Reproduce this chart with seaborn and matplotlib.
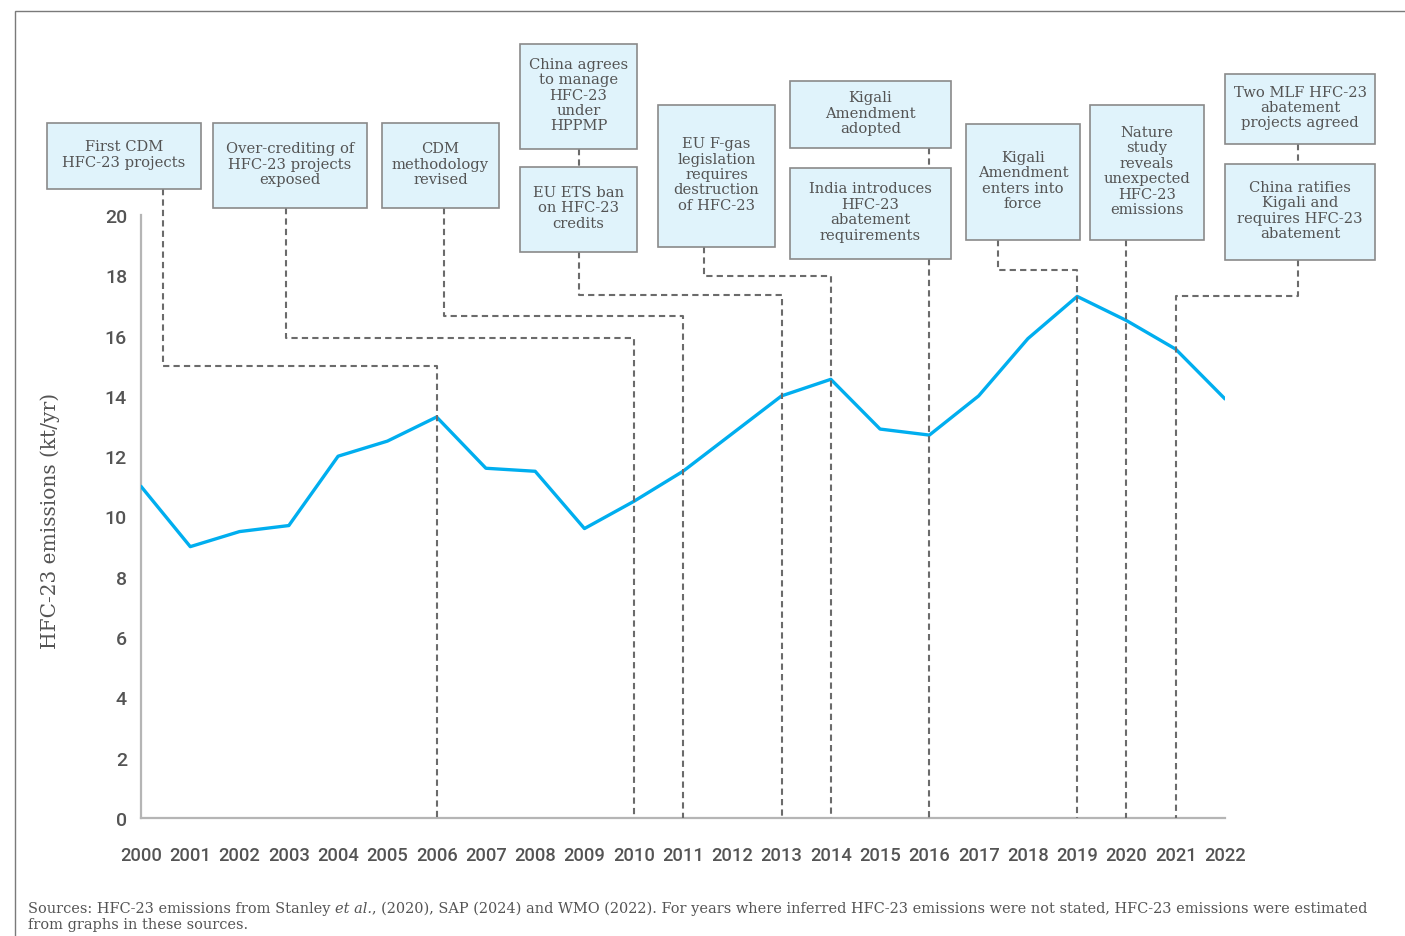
import matplotlib
matplotlib.use("Agg")
import matplotlib.pyplot as plt
import pandas as pd
import seaborn as sns
from matplotlib.patches import Rectangle

# ---------------------------
# Data
# ---------------------------
years = list(range(2000, 2023))
emissions = [11.0, 9.0, 9.5, 9.7, 12.0, 12.5, 13.3, 11.6, 11.5, 9.6, 10.5, 11.5,
             12.75, 14.0, 14.55, 12.9, 12.7, 14.0, 15.9, 17.3, 16.5, 15.55, 13.9]

event_labels = [
    "First CDM\nHFC-23 projects",
    "Over-crediting of\nHFC-23 projects\nexposed",
    "CDM\nmethodology\nrevised",
    "EU ETS ban\non HFC-23\ncredits",
    "EU F-gas\nlegislation\nrequires\ndestruction\nof HFC-23",
    "India introduces\nHFC-23\nabatement\nrequirements",
    "Kigali\nAmendment\nenters into\nforce",
    "Nature\nstudy\nreveals\nunexpected\nHFC-23\nemissions",
    "China ratifies\nKigali and\nrequires HFC-23\nabatement",
]
event_years = [2006, 2010, 2011, 2013, 2014, 2016, 2019, 2020, 2021]
elbow_values = [15.0, 15.92, 16.65, 17.35, 17.98, None, 18.18, None, 17.3]

# boxes stacked above another event box (no year of their own)
upper_labels = [
    "China agrees\nto manage\nHFC-23\nunder\nHPPMP",
    "Kigali\nAmendment\nadopted",
    "Two MLF HFC-23\nabatement\nprojects agreed",
]

source_parts = [
    ("Sources: HFC-23 emissions from Stanley ", "normal"),
    ("et al.", "italic"),
    (", (2020), SAP (2024) and WMO (2022). For years where inferred HFC-23 emissions "
     "were not stated, HFC-23 emissions were estimated", "normal"),
]
source_line2 = "from graphs in these sources."

# ---------------------------
# Layout (pixels, from top-left)
# ---------------------------
W, H = 1405, 937
event_boxes = [(47, 124, 201, 190), (213, 124, 367, 209), (382, 124, 499, 209),
               (520, 168, 637, 253), (658, 106, 775, 248), (790, 169, 951, 260),
               (966, 125, 1080, 241), (1090, 106, 1204, 241), (1225, 165, 1375, 261)]
event_anchor_x = [163, 286, 444, 579, 704, 929, 998, 1128, 1298]
upper_boxes = [(520, 45, 637, 150), (790, 82, 951, 149), (1225, 75, 1375, 145)]
upper_to_lower = [3, 5, 8]

line_color = "#00aeef"
text_color = "#545454"
dash_color = "#6b6b6b"
box_fill = "#e0f3fb"
box_edge = "#8a8a8a"

sns.set_style("white")
plt.rcParams["font.family"] = ["DejaVu Serif", "DejaVu Sans"]

df = pd.DataFrame({"Year": years, "Emissions": emissions})

fig = plt.figure(figsize=(W / 100, H / 100), dpi=100)
ax = fig.add_axes([141 / W, 1 - 819 / H, (1225 - 141) / W, (819 - 216) / H])

sns.lineplot(data=df, x="Year", y="Emissions", ax=ax, color=line_color,
             linewidth=2.4, zorder=3)

ax.set_xlim(2000, 2022)
ax.set_ylim(0, 20)
ax.set_xticks(years)
ax.set_yticks(range(0, 21, 2))
ax.tick_params(axis="both", length=0, labelcolor=text_color)
ax.tick_params(axis="x", pad=20)
ax.tick_params(axis="y", pad=10)
for lab in ax.get_xticklabels():
    lab.set_fontfamily("Roboto")
    lab.set_fontsize(13.2)
    lab.set_fontweight("medium")
for lab in ax.get_yticklabels():
    lab.set_fontfamily("Roboto")
    lab.set_fontsize(14)
    lab.set_fontweight("medium")

for s in ["top", "right"]:
    ax.spines[s].set_visible(False)
for s in ["left", "bottom"]:
    ax.spines[s].set_color("#b5b5b5")
    ax.spines[s].set_linewidth(1.6)

ax.set_xlabel("")
ax.set_ylabel("HFC-23 emissions (kt/yr)", fontsize=14.5, color=text_color)
ax.yaxis.set_label_coords((60 - 141) / (1225 - 141), 0.495)


def fig_xy(x, y):
    return x / W, 1 - y / H


def px_to_data(x, y):
    disp = fig.transFigure.transform(fig_xy(x, y))
    return ax.transData.inverted().transform(disp)


def draw_box(box, label):
    x0, y0, x1, y1 = box
    fx0, fy1 = fig_xy(x0, y1)
    fig.add_artist(Rectangle((fx0, fy1), (x1 - x0) / W, (y1 - y0) / H,
                             transform=fig.transFigure, facecolor=box_fill,
                             edgecolor=box_edge, linewidth=1.2, zorder=4))
    cx, cy = fig_xy((x0 + x1) / 2, (y0 + y1) / 2 - 2)
    fig.text(cx, cy, label, ha="center", va="center", fontsize=10.6,
             color=text_color, linespacing=1.13, zorder=5)


dash_kw = dict(color=dash_color, linewidth=1.5, linestyle=(0, (3, 2)),
               clip_on=False, zorder=4)

for label, box, anchor, year, elbow in zip(event_labels, event_boxes, event_anchor_x,
                                            event_years, elbow_values):
    draw_box(box, label)
    bx, by = px_to_data(anchor, box[3])
    if elbow is None:
        xs, ys = [year, year], [by, 0]
    else:
        xs, ys = [bx, bx, year, year], [by, elbow, elbow, 0]
    ax.plot(xs, ys, **dash_kw)

for label, box, lower in zip(upper_labels, upper_boxes, upper_to_lower):
    draw_box(box, label)
    anchor = event_anchor_x[lower]
    x_top, y_top = px_to_data(anchor, box[3])
    x_bot, y_bot = px_to_data(anchor, event_boxes[lower][1])
    ax.plot([x_top, x_bot], [y_top, y_bot], **dash_kw)

# outer frame of the figure panel
fig.add_artist(Rectangle((15 / W, -0.2), 1.5, 1 - 12 / H + 0.2, transform=fig.transFigure,
                         fill=False, edgecolor="#7a7a7a", linewidth=1.0))

# source note: italic "et al." chained between roman pieces
src_kw = dict(fontsize=10.45, color=text_color)
prev = fig.text(28 / W, 1 - 902.5 / H, source_parts[0][0], ha="left", va="top",
                style=source_parts[0][1], **src_kw)
for txt, style in source_parts[1:]:
    prev = ax.annotate(txt, xy=(1, 0), xycoords=prev, ha="left", va="bottom",
                       style=style, annotation_clip=False, **src_kw)
fig.text(28 / W, 1 - 918.5 / H, source_line2, ha="left", va="top", **src_kw)

fig.savefig("out.png", dpi=100)
plt.close(fig)
